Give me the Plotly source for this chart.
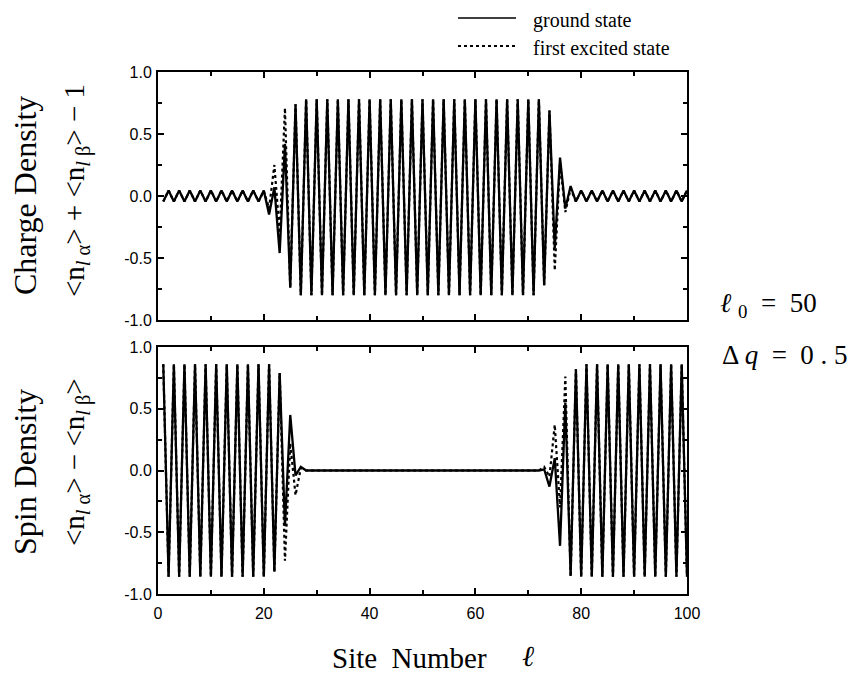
import plotly.graph_objects as go

# ---------------- data ----------------
sites = list(range(1, 101))

charge_ground = [
    -0.045, 0.045, -0.045, 0.045, -0.045, 0.045, -0.045, 0.045, -0.045, 0.045,
    -0.045, 0.045, -0.045, 0.045, -0.045, 0.045, -0.045, 0.045, -0.045, 0.045,
    -0.15, 0.07, -0.46, 0.42, -0.74, 0.74, -0.80, 0.78, -0.80, 0.78,
    -0.80, 0.78, -0.80, 0.78, -0.80, 0.78, -0.80, 0.78, -0.80, 0.78,
    -0.80, 0.78, -0.80, 0.78, -0.80, 0.78, -0.80, 0.78, -0.80, 0.78,
    -0.80, 0.78, -0.80, 0.78, -0.80, 0.78, -0.80, 0.78, -0.80, 0.78,
    -0.80, 0.78, -0.80, 0.78, -0.80, 0.78, -0.80, 0.78, -0.80, 0.78,
    -0.80, 0.78, -0.72, 0.69, -0.42, 0.31, -0.10, 0.08, -0.045, 0.045,
    -0.045, 0.045, -0.045, 0.045, -0.045, 0.045, -0.045, 0.045, -0.045, 0.045,
    -0.045, 0.045, -0.045, 0.045, -0.045, 0.045, -0.045, 0.045, -0.045, 0.045,
]

charge_excited = [
    -0.045, 0.045, -0.045, 0.045, -0.045, 0.045, -0.045, 0.045, -0.045, 0.045,
    -0.045, 0.045, -0.045, 0.045, -0.045, 0.045, -0.045, 0.045, -0.045, 0.04,
    -0.10, 0.25, -0.30, 0.71, -0.74, 0.74, -0.80, 0.78, -0.80, 0.78,
    -0.80, 0.78, -0.80, 0.78, -0.80, 0.78, -0.80, 0.78, -0.80, 0.78,
    -0.80, 0.78, -0.80, 0.78, -0.80, 0.78, -0.80, 0.78, -0.80, 0.78,
    -0.80, 0.78, -0.80, 0.78, -0.80, 0.78, -0.80, 0.78, -0.80, 0.78,
    -0.80, 0.78, -0.80, 0.78, -0.80, 0.78, -0.80, 0.78, -0.80, 0.78,
    -0.80, 0.78, -0.72, 0.69, -0.60, 0.27, -0.13, 0.06, -0.045, 0.045,
    -0.045, 0.045, -0.045, 0.045, -0.045, 0.045, -0.045, 0.045, -0.045, 0.045,
    -0.045, 0.045, -0.045, 0.045, -0.045, 0.045, -0.045, 0.045, -0.045, 0.045,
]

spin_ground = [
    0.86, -0.86, 0.86, -0.86, 0.86, -0.86, 0.86, -0.86, 0.86, -0.86,
    0.86, -0.86, 0.86, -0.86, 0.86, -0.86, 0.86, -0.86, 0.86, -0.86,
    0.86, -0.82, 0.79, -0.45, 0.45, -0.04, 0.03, 0.0, 0.0, 0.0,
    0.0, 0.0, 0.0, 0.0, 0.0, 0.0, 0.0, 0.0, 0.0, 0.0,
    0.0, 0.0, 0.0, 0.0, 0.0, 0.0, 0.0, 0.0, 0.0, 0.0,
    0.0, 0.0, 0.0, 0.0, 0.0, 0.0, 0.0, 0.0, 0.0, 0.0,
    0.0, 0.0, 0.0, 0.0, 0.0, 0.0, 0.0, 0.0, 0.0, 0.0,
    0.0, 0.0, 0.01, -0.13, 0.10, -0.61, 0.55, -0.85, 0.82, -0.86,
    0.86, -0.86, 0.86, -0.86, 0.86, -0.86, 0.86, -0.86, 0.86, -0.86,
    0.86, -0.86, 0.86, -0.86, 0.86, -0.86, 0.86, -0.86, 0.86, -0.86,
]

spin_excited = [
    0.86, -0.86, 0.86, -0.86, 0.86, -0.86, 0.86, -0.86, 0.86, -0.86,
    0.86, -0.86, 0.86, -0.86, 0.86, -0.86, 0.86, -0.86, 0.86, -0.86,
    0.86, -0.82, 0.79, -0.73, 0.22, -0.20, 0.02, 0.0, 0.0, 0.0,
    0.0, 0.0, 0.0, 0.0, 0.0, 0.0, 0.0, 0.0, 0.0, 0.0,
    0.0, 0.0, 0.0, 0.0, 0.0, 0.0, 0.0, 0.0, 0.0, 0.0,
    0.0, 0.0, 0.0, 0.0, 0.0, 0.0, 0.0, 0.0, 0.0, 0.0,
    0.0, 0.0, 0.0, 0.0, 0.0, 0.0, 0.0, 0.0, 0.0, 0.0,
    0.0, 0.0, 0.03, -0.05, 0.37, -0.30, 0.76, -0.86, 0.82, -0.86,
    0.86, -0.86, 0.86, -0.86, 0.86, -0.86, 0.86, -0.86, 0.86, -0.86,
    0.86, -0.86, 0.86, -0.86, 0.86, -0.86, 0.86, -0.86, 0.86, -0.86,
]

x_ticks = [0, 20, 40, 60, 80, 100]
y_ticks = [-1.0, -0.5, 0.0, 0.5, 1.0]
y_tick_labels = ["-1.0", "-0.5", "0.0", "0.5", "1.0"]

legend_labels = ["ground state", "first excited state"]

# ---------------- figure ----------------
SERIF = "Liberation Serif, Times New Roman, serif"
SANS = "Liberation Sans, Arial, sans-serif"

fig = go.Figure()

dot_style = dict(color="black", width=2.2, dash="dot")
solid_style = dict(color="black", width=2.3)

fig.add_trace(go.Scatter(x=sites, y=charge_excited, mode="lines", line=dot_style,
                         xaxis="x", yaxis="y", showlegend=False))
fig.add_trace(go.Scatter(x=sites, y=charge_ground, mode="lines", line=solid_style,
                         xaxis="x", yaxis="y", showlegend=False))
fig.add_trace(go.Scatter(x=sites, y=spin_excited, mode="lines", line=dot_style,
                         xaxis="x2", yaxis="y2", showlegend=False))
fig.add_trace(go.Scatter(x=sites, y=spin_ground, mode="lines", line=solid_style,
                         xaxis="x2", yaxis="y2", showlegend=False))

# the page body adds an 8px margin, so the figure is drawn 8px smaller
OFF = 8
W, H = 848, 665
L, R, T, B = 150, 169, 64, 79
PW, PH = W - L - R, H - T - B


def px_x(px):
    """reference-window pixel x -> paper x"""
    return (px - OFF - L) / PW


def px_y(py):
    """reference-window pixel y -> paper y"""
    return (H - B - (py - OFF)) / PH


axis_common = dict(
    showline=True, linecolor="black", linewidth=2, mirror="allticks",
    ticks="inside", ticklen=6, tickwidth=1.5, tickcolor="black",
    showgrid=False, zeroline=False,
    tickfont=dict(family=SANS, size=16, color="black"),
)

xaxis_common = dict(axis_common, range=[0, 100], tickvals=x_ticks, ticklabelstandoff=4,
                    minor=dict(ticks="inside", dtick=10, tick0=0, ticklen=4,
                               tickwidth=1.5, tickcolor="black", showgrid=False))
yaxis_common = dict(axis_common, range=[-1, 1], tickvals=y_ticks, ticktext=y_tick_labels,
                    ticklabelstandoff=1,
                    minor=dict(ticks="inside", dtick=0.25, tick0=0, ticklen=4,
                               tickwidth=1.5, tickcolor="black", showgrid=False))

top_bottom = px_y(320)
bot_top = px_y(347)

fig.update_layout(
    width=W, height=H,
    margin=dict(l=L, r=R, t=T, b=B),
    paper_bgcolor="white", plot_bgcolor="white",
    showlegend=False,
    xaxis=dict(xaxis_common, domain=[0, 1], anchor="y", showticklabels=False),
    yaxis=dict(yaxis_common, domain=[top_bottom, 1], anchor="x"),
    xaxis2=dict(xaxis_common, domain=[0, 1], anchor="y2"),
    yaxis2=dict(yaxis_common, domain=[0, bot_top], anchor="x2"),
)

annotations = []
# y-axis titles
annotations.append(dict(text="Charge Density", x=px_x(25), y=px_y(196), xref="paper", yref="paper",
                        textangle=-90, showarrow=False, xanchor="center", yanchor="middle",
                        font=dict(family=SERIF, size=32, color="black")))
annotations.append(dict(text="&lt;n<sub><i>l</i> α</sub>&gt; + &lt;n<sub><i>l</i> β</sub>&gt; − 1",
                        x=px_x(76), y=px_y(191), xref="paper", yref="paper",
                        textangle=-90, showarrow=False, xanchor="center", yanchor="middle",
                        font=dict(family=SERIF, size=29, color="black")))
annotations.append(dict(text="Spin Density", x=px_x(25), y=px_y(472), xref="paper", yref="paper",
                        textangle=-90, showarrow=False, xanchor="center", yanchor="middle",
                        font=dict(family=SERIF, size=32, color="black")))
annotations.append(dict(text="&lt;n<sub><i>l</i> α</sub>&gt; − &lt;n<sub><i>l</i> β</sub>&gt;",
                        x=px_x(76), y=px_y(462), xref="paper", yref="paper",
                        textangle=-90, showarrow=False, xanchor="center", yanchor="middle",
                        font=dict(family=SERIF, size=29, color="black")))
# x-axis title
annotations.append(dict(text="Site  Number", x=px_x(330), y=px_y(658),
                        xref="paper", yref="paper", showarrow=False,
                        xanchor="left", yanchor="middle",
                        font=dict(family=SERIF, size=29, color="black")))
annotations.append(dict(text="<i>ℓ</i>", x=px_x(528), y=px_y(656),
                        xref="paper", yref="paper", showarrow=False,
                        xanchor="center", yanchor="middle",
                        font=dict(family=SERIF, size=29, color="black")))
# parameters
annotations.append(dict(text="<i>ℓ</i> <sub>0</sub>  =  50", x=px_x(718), y=px_y(305),
                        xref="paper", yref="paper", showarrow=False,
                        xanchor="left", yanchor="middle",
                        font=dict(family=SERIF, size=27, color="black")))
annotations.append(dict(text="Δ <i>q</i>  =  0 . 5", x=px_x(720), y=px_y(355),
                        xref="paper", yref="paper", showarrow=False,
                        xanchor="left", yanchor="middle",
                        font=dict(family=SERIF, size=27, color="black")))
# legend
legend_rows = [20, 48]
legend_dash = ["solid", "dot"]
shapes = []
for label, ry, dash in zip(legend_labels, legend_rows, legend_dash):
    shapes.append(dict(type="line", xref="paper", yref="paper",
                       x0=px_x(458), x1=px_x(516), y0=px_y(ry - 2), y1=px_y(ry - 2),
                       line=dict(color="black", width=1.6 if dash == "solid" else 2, dash=dash)))
    annotations.append(dict(text=label, x=px_x(531), y=px_y(ry), xref="paper", yref="paper",
                            showarrow=False, xanchor="left", yanchor="middle",
                            font=dict(family=SERIF, size=20, color="black")))

fig.update_layout(annotations=annotations, shapes=shapes)

fig.write_html("out.html")
